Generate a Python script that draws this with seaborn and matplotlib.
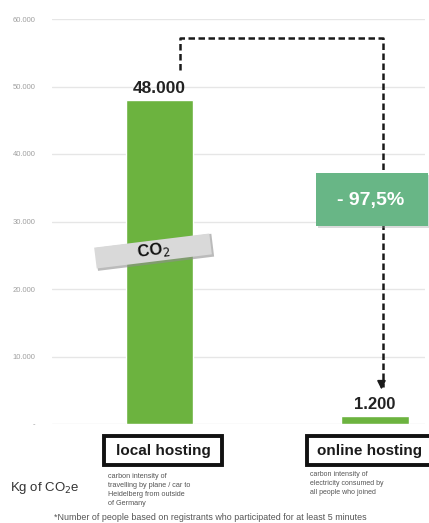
import matplotlib
matplotlib.use("Agg")
import matplotlib.pyplot as plt
import matplotlib.patches as mpatches
import matplotlib.transforms as mtrans
import seaborn as sns
import pandas as pd

categories = ["local hosting", "online hosting"]
values = [48000, 1200]
value_labels = ["48.000", "1.200"]
yticks = [0, 10000, 20000, 30000, 40000, 50000, 60000]
ytick_labels = ["-", "10.000", "20.000", "30.000", "40.000", "50.000", "60.000"]
descriptions = ["carbon intensity of\ntravelling by plane / car to\nHeidelberg from outside\nof Germany",
                "carbon intensity of\nelectricity consumed by\nall people who joined"]
reduction_label = "- 97,5%"
footnote = "*Number of people based on registrants who participated for at least 5 minutes"

sns.set_style("white")
plt.rcParams["font.family"] = ["Liberation Sans", "DejaVu Sans"]

W, H = 429, 523
fig = plt.figure(figsize=(W / 100, H / 100), dpi=100)
ax = fig.add_axes([52 / W, (H - 424) / H, 373 / W, (424 - 19) / H])

df = pd.DataFrame({"cat": categories, "val": values})
sns.barplot(data=df, x="cat", y="val", color="#6cb33f", saturation=1, width=0.313, ax=ax, zorder=2)

ax.set_xlim(-0.499, 1.232)
ax.set_ylim(0, 60000)
ax.set_yticks(yticks)
ax.set_yticklabels(ytick_labels, fontsize=5.5, color="#a0a0a0")
ax.tick_params(axis="y", length=0, pad=12)
ax.set_xticks([])
ax.set_xlabel("")
ax.set_ylabel("")
for y in yticks:
    ax.axhline(y, color="#e6e6e6", lw=1.0, zorder=0)
for s in ax.spines.values():
    s.set_visible(False)

# value labels
for i, (v, lab) in enumerate(zip(values, value_labels)):
    ax.annotate(lab, (i, v), xytext=(0, 3), textcoords="offset points", ha="center", va="bottom",
                fontsize=12.5 if i == 0 else 12, fontweight="bold", color="#222222")

# dashed connector
x0 = 0.095
x1 = 1.035
ytop = 57200
ax.plot([x0, x0, x1, x1], [values[0] + 4400, ytop, ytop, values[1] + 4300], color="#1a1a1a",
        lw=1.8, ls=(0, (2.6, 1.4)), zorder=3, solid_joinstyle="round", clip_on=False)
ax.annotate("", xy=(x1 - 0.005, values[1] + 3500), xytext=(x1 - 0.005, values[1] + 5000),
            arrowprops=dict(arrowstyle="-|>,head_length=0.5,head_width=0.25", color="#1a1a1a", lw=1.2),
            zorder=4)

# pixel-space transform helper (y up from bottom)
pix = mtrans.Affine2D().scale(1 / W, 1 / H) + fig.transFigure

def py(y):
    return H - y

# green reduction box with shadow
fig.patches.append(mpatches.Rectangle((318, py(228)), 112, 53, transform=pix, fc="#9a9a9a",
                                      ec="none", alpha=0.35, zorder=5))
fig.patches.append(mpatches.Rectangle((316, py(226)), 112, 53, transform=pix, fc="#68b686",
                                      ec="none", zorder=6))
fig.text(371 / W, py(200) / H, reduction_label, ha="center", va="center", fontsize=14,
         fontweight="bold", color="white", zorder=7)

# rotated CO2 tag
cx, cy = 153, 251
rot = mtrans.Affine2D().rotate_deg_around(cx, py(cy), 7) + pix
fig.patches.append(mpatches.Rectangle((cx - 57, py(cy) - 13), 117, 23, transform=rot,
                                      fc="#8e8e8e", ec="none", alpha=0.6, zorder=5))
fig.patches.append(mpatches.Rectangle((cx - 58, py(cy) - 10.5), 116, 21, transform=rot,
                                      fc="#d9d9d9", ec="none", zorder=6))
fig.text(cx / W, py(cy) / H, "CO$_2$", rotation=7, rotation_mode="anchor", ha="center", va="center",
         fontsize=12, fontweight="bold", color="#111111", zorder=7)

# boxed category labels
box_specs = [(104, 118), (307, 125)]
for (bx, bw), lab in zip(box_specs, categories):
    fig.patches.append(mpatches.Rectangle((bx, py(465)), bw, 29, transform=pix, fc="white",
                                          ec="#111111", lw=2.8, zorder=5))
    fig.text((bx + bw / 2) / W, py(451) / H, lab, ha="center", va="center", fontsize=11,
             fontweight="bold", color="#1a1a1a", zorder=6)

# descriptions
fig.text(108 / W, py(473) / H, descriptions[0], ha="left", va="top", fontsize=5.2,
         color="#555555", linespacing=1.4)
fig.text(310 / W, py(471) / H, descriptions[1], ha="left", va="top", fontsize=5.0,
         color="#555555", linespacing=1.4)

fig.text(10 / W, py(488) / H, "Kg of CO$_2$e", ha="left", va="center", fontsize=9.5, color="#333333")
fig.text(54 / W, py(517) / H, footnote, ha="left", va="center", fontsize=6.4, color="#555555")

fig.savefig("out.png", dpi=100)
